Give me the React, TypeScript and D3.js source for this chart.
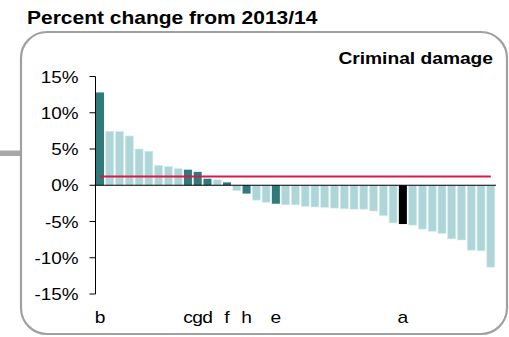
import React from "react";
import * as d3 from "d3";

const categories: string[] = [
  "b", "", "", "", "", "", "", "", "", "c", "g", "d", "", "f", "", "h", "", "", "e", "",
  "", "", "", "", "", "", "", "", "", "", "", "a", "", "", "", "", "", "", "", "", "",
];
const values: number[] = [
  12.8, 7.45, 7.4, 6.8, 5.0, 4.7, 2.75, 2.6, 2.3, 2.15, 1.85, 0.9, 0.75, 0.4, -0.75,
  -1.15, -2.05, -2.35, -2.55, -2.7, -2.7, -2.9, -3.0, -3.05, -3.15, -3.25, -3.3, -3.3,
  -3.55, -4.2, -5.2, -5.35, -5.5, -6.05, -6.35, -6.65, -7.4, -7.55, -8.95, -9.05, -11.3,
];
const highlight: string[] = ["b", "c", "g", "d", "f", "h", "e"];
const selected: string[] = ["a"];
const averageChange = 1.2;
const yTicks: number[] = [15, 10, 5, 0, -5, -10, -15];
const title = "Percent change from 2013/14";
const panelTitle = "Criminal damage";

const FONT = "'Liberation Sans', Arial, sans-serif";

function SText({
  x, y, size, weight, anchor, sx, children,
}: {
  x: number; y: number; size: number; weight?: string; anchor?: string; sx?: number; children: React.ReactNode;
}) {
  return (
    <g transform={`translate(${x},${y}) scale(${sx ?? 1.2},1)`}>
      <text
        x={0}
        y={0}
        fontFamily={FONT}
        fontSize={size}
        fontWeight={weight ?? "normal"}
        textAnchor={anchor ?? "start"}
        fill="#000"
      >
        {children}
      </text>
    </g>
  );
}

export default function App() {
  const W = 509;
  const H = 337;
  const ids = values.map((_, i) => String(i));
  const x = d3.scaleBand<string>().domain(ids).range([96, 494.8]).paddingInner(0.18).paddingOuter(0);
  const y = d3.scaleLinear().domain([-15, 15]).range([294, 76.5]);
  const y0 = y(0);
  const color = (c: string) =>
    selected.includes(c) ? "#000000" : highlight.includes(c) ? "#2f7a7a" : "#aed6d9";
  const firstC = (x(ids[0]) ?? 0) + x.bandwidth() / 2;
  const lastC = (x(ids[ids.length - 1]) ?? 0) + x.bandwidth() / 2;

  return (
    <svg
      width={W}
      height={H}
      style={{ position: "absolute", left: 0, top: 0, background: "#fff" }}
    >
      <rect x={0} y={150.5} width={21} height={5.5} fill="#a8a8a8" />
      <rect x={21} y={32} width={486} height={302} rx={26} ry={26} fill="#fff" stroke="#a0a0a0" strokeWidth={2.2} />
      <SText x={27} y={24} size={17.5} weight="bold" sx={1.2}>{title}</SText>
      <SText x={493} y={64} size={16} weight="bold" anchor="end" sx={1.2}>{panelTitle}</SText>

      {values.map((v, i) => {
        const c = categories[i];
        const top = Math.min(y(v), y0);
        const h = Math.abs(y(v) - y0);
        return (
          <rect
            key={i}
            x={x(ids[i])}
            y={top}
            width={x.bandwidth()}
            height={h}
            fill={color(c)}
            stroke={c === "" ? "#d4ecee" : "none"}
            strokeWidth={0.6}
          />
        );
      })}

      <line x1={95.5} x2={496} y1={y0} y2={y0} stroke="#000" strokeWidth={1.2} />
      <line x1={firstC} x2={lastC} y1={y(averageChange)} y2={y(averageChange)} stroke="#d81b45" strokeWidth={2} />

      <line x1={95.5} x2={95.5} y1={y(15)} y2={y(-15)} stroke="#000" strokeWidth={1} />
      {yTicks.map((t) => (
        <g key={t}>
          <line x1={89.5} x2={95.5} y1={y(t)} y2={y(t)} stroke="#000" strokeWidth={1} />
          <SText x={78.5} y={y(t) + 6} size={16} anchor="end" sx={1.18}>{`${t}%`}</SText>
        </g>
      ))}

      {categories.map((c, i) =>
        c ? (
          <SText key={i} x={(x(ids[i]) ?? 0) + x.bandwidth() / 2} y={323} size={16} anchor="middle" sx={1.2}>
            {c}
          </SText>
        ) : null
      )}
    </svg>
  );
}
